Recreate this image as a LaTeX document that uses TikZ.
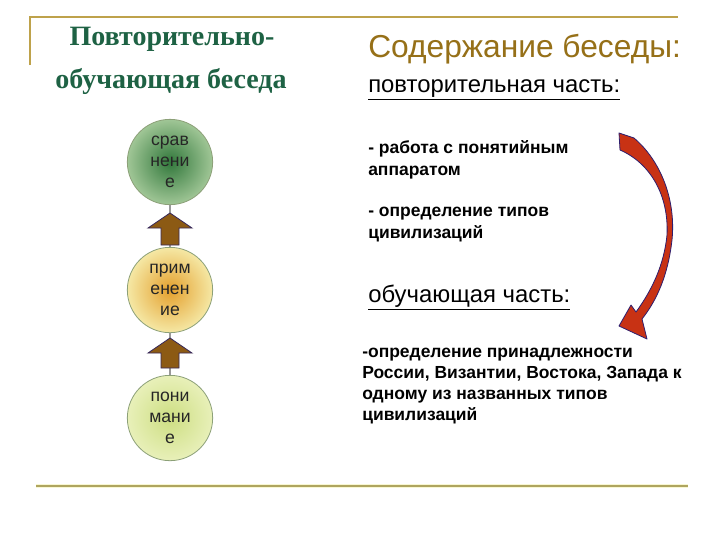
\documentclass[tikz,border=0pt]{standalone}
\usepackage{fontspec}
\setmainfont{Liberation Sans}
\newfontfamily\titlefont{Liberation Serif}
\definecolor{framegold}{RGB}{190,162,75}
\definecolor{bottomline}{RGB}{175,165,95}
\definecolor{titlegreen}{RGB}{30,98,68}
\definecolor{headbrown}{RGB}{150,112,24}
\definecolor{arrowbrown}{RGB}{140,90,20}
\definecolor{arrowedge}{RGB}{55,40,90}
\definecolor{redarrow}{RGB}{200,50,20}
\definecolor{navyedge}{RGB}{45,30,110}
\definecolor{circedge}{RGB}{140,160,120}
\begin{document}
\begin{tikzpicture}[x=0.75pt,y=-0.75pt,
  titletext/.style={font=\titlefont\bfseries\fontsize{21}{25}\selectfont, text=titlegreen, inner sep=0pt, anchor=base},
  headtext/.style={font=\fontsize{23.8}{28}\selectfont, text=headbrown, inner sep=0pt, anchor=base west},
  subtext/.style={font=\fontsize{17.9}{21}\selectfont, inner sep=0pt, anchor=base west},
  bodytext/.style={font=\bfseries\fontsize{13.1}{15.5}\selectfont, inner sep=0pt, anchor=base west},
  circ/.style={circle, draw=circedge, line width=0.6pt, minimum size=64pt, inner sep=0pt, align=center,
     font=\fontsize{13.2}{15.75}\selectfont, text=black!85},
  uparrow/.style={fill=arrowbrown, draw=arrowedge, line width=0.6pt, line join=miter},
  connector/.style={draw=gray!80, line width=0.8pt}
]
\useasboundingbox (0,0) rectangle (720,540);
\fill[white] (0,0) rectangle (720,540);

% frame lines
\draw[framegold, line width=1.2pt] (30,65) -- (30,17) -- (678,17);
\draw[bottomline!40!yellow!50, line width=3pt, opacity=0.4] (36,486) -- (688,486);
\draw[bottomline, line width=1.6pt] (36,486) -- (688,486);

% title
\node[titletext] (t1) at (172,45) {Повторительно-};
\node[titletext] (t2) at (171,88) {обучающая беседа};

% circles
\node[circ, inner color={rgb,255:red,50;green,120;blue,60}, outer color={rgb,255:red,160;green,198;blue,150}] (sr) at (170,162) {срав\\нени\\е};
\node[circ, inner color={rgb,255:red,228;green,160;blue,45}, outer color={rgb,255:red,245;green,232;blue,165}] (pr) at (170,290) {прим\\енен\\ие};
\node[circ, inner color={rgb,255:red,205;green,222;blue,130}, outer color={rgb,255:red,232;green,240;blue,185}] (po) at (170,418) {пони\\мани\\е};

\draw[connector] (sr.south) -- (pr.north);
\draw[connector] (pr.south) -- (po.north);

% up arrows
\draw[uparrow] (170,213) -- (192,228) -- (179,228) -- (179,245) -- (161,245) -- (161,228) -- (148,228) -- cycle;
\draw[uparrow] (170,338) -- (192,353) -- (179,353) -- (179,368) -- (161,368) -- (161,353) -- (148,353) -- cycle;

% right side text
\node[headtext] (h) at (368,57) {Содержание беседы:};
\node[subtext] (s1) at (368,92) {\underline{повторительная часть:}};
\node[bodytext] (b1) at (368,153) {- работа с понятийным};
\node[bodytext] (b2) at (368,175) {аппаратом};
\node[bodytext] (b3) at (368,216) {- определение типов};
\node[bodytext] (b4) at (368,238) {цивилизаций};
\node[subtext] (s2) at (368,302) {\underline{обучающая часть:}};
\node[bodytext] (c1) at (362,357) {-определение принадлежности};
\node[bodytext] (c2) at (362,378) {России, Византии, Востока, Запада к};
\node[bodytext] (c3) at (362,399) {одному из названных типов};
\node[bodytext] (c4) at (362,420) {цивилизаций};

% curved red arrow
\draw[fill=redarrow, draw=navyedge, line width=0.6pt, line join=round]
  (619,133) -- (634,138)
  .. controls (661,161) and (676,200) .. (672,240)
  .. controls (668,275) and (657,300) .. (642,319)
  -- (647,339) -- (619,326) -- (631,305) -- (636,312)
  .. controls (652,290) and (664,265) .. (667,235)
  .. controls (669,195) and (650,163) .. (620,150) -- cycle;
\end{tikzpicture}
\end{document}
